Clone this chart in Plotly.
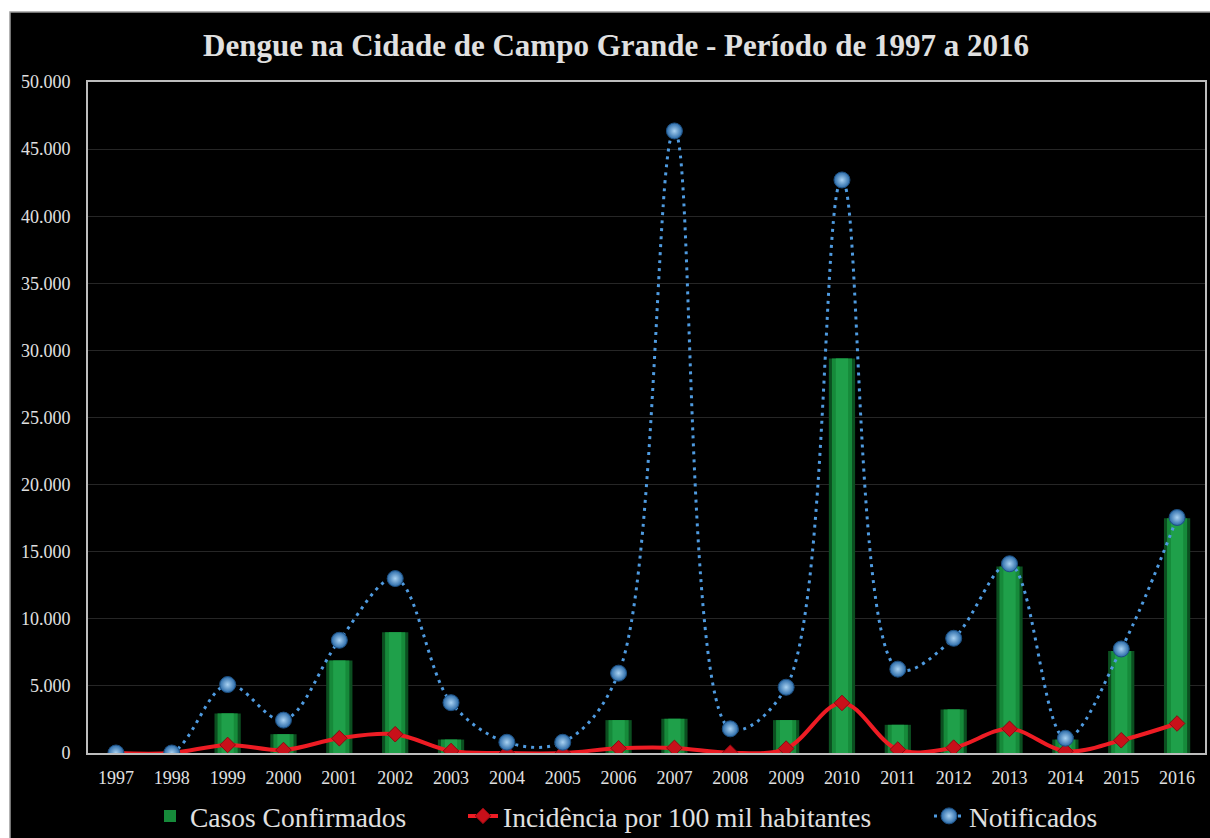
import plotly.graph_objects as go

anos = ['1997', '1998', '1999', '2000', '2001', '2002', '2003', '2004', '2005', '2006',
        '2007', '2008', '2009', '2010', '2011', '2012', '2013', '2014', '2015', '2016']
casos_confirmados = [0, 0, 2950, 1400, 6900, 9000, 1000, 0, 0, 2450,
                     2550, 0, 2450, 29400, 2100, 3250, 13900, 1000, 7600, 17500]
incidencia = [0, 0, 600, 220, 1100, 1400, 150, 0, 0, 350,
              380, 20, 330, 3730, 260, 400, 1800, 130, 950, 2200]
notificados = [0, 0, 5100, 2450, 8400, 13000, 3750, 800, 800, 5950,
               46350, 1800, 4900, 42700, 6250, 8550, 14100, 1100, 7750, 17550]
y_ticks = [0, 5000, 10000, 15000, 20000, 25000, 30000, 35000, 40000, 45000, 50000]
y_tick_text = ['0', '5.000', '10.000', '15.000', '20.000', '25.000', '30.000',
               '35.000', '40.000', '45.000', '50.000']

SERIF = 'Liberation Serif, Times New Roman, serif'
TXT = '#e0e0e0'

W, H = 1210, 838
L, R, T, B = 88, 5, 82, 85
pw, ph = W - L - R, H - T - B
def px_x(p):
    return (p - L) / pw
def px_y(p):
    return (H - B - p) / ph

fig = go.Figure()
# bars drawn in layers (dark edge -> bright centre) for a cylindrical look
bar_layers = [(0.47, '#0b4f20', False), (0.36, '#168a3a', True), (0.22, '#1fa04a', False)]
for w, c, show in bar_layers:
    fig.add_trace(go.Bar(
        x=anos, y=casos_confirmados, name='Casos Confirmados',
        width=w, marker=dict(color=c, line=dict(width=0)),
        showlegend=show, legend='legend',
    ))
fig.add_trace(go.Scatter(
    x=anos, y=incidencia, name='Incidência por 100 mil habitantes',
    mode='lines+markers', legend='legend2',
    line=dict(color='#ee1c24', width=4, shape='spline', smoothing=1.0),
    marker=dict(symbol='diamond', size=12, color='#c8101a',
                line=dict(color='#8a0a10', width=1)),
))
fig.add_trace(go.Scatter(
    x=anos, y=notificados, name='Notificados',
    mode='lines+markers', legend='legend3',
    line=dict(color='#4f9be0', width=3, dash='3px,5px', shape='spline', smoothing=1.0),
    marker=dict(symbol='circle', size=16, color='#2a6aa8',
                gradient=dict(type='radial', color='#a9d2f2'),
                line=dict(color='#1d4f80', width=1)),
))

fig.add_shape(type='rect', xref='paper', yref='paper', layer='below',
              x0=px_x(10), x1=px_x(1215), y0=px_y(845), y1=px_y(12),
              fillcolor='black', line=dict(color='#9a9a9a', width=1.5))

leg_common = dict(orientation='h', yanchor='middle', y=px_y(816), xanchor='left',
                  font=dict(family=SERIF, size=27.5, color=TXT),
                  bgcolor='rgba(0,0,0,0)')

fig.update_layout(
    width=W, height=H,
    margin=dict(l=L, r=R, t=T, b=B, autoexpand=False),
    paper_bgcolor='white', plot_bgcolor='black',
    barmode='overlay',
    title=dict(text='<b>Dengue na Cidade de Campo Grande - Período de 1997 a 2016</b>',
               x=px_x(616), xanchor='center', xref='paper',
               y=1 - 45 / H, yanchor='middle',
               font=dict(family=SERIF, size=31, color=TXT)),
    font=dict(family=SERIF, color=TXT),
    showlegend=True,
    legend=dict(x=px_x(150), **leg_common),
    legend2=dict(x=px_x(463), **leg_common),
    legend3=dict(x=px_x(929), **leg_common),
)
fig.update_xaxes(
    type='category', range=[-0.5, 19.5], automargin=False,
    showline=True, linecolor='#bdbdbd', linewidth=2, mirror=True,
    showgrid=False, ticks='', tickfont=dict(family=SERIF, size=18, color=TXT),
    ticklabelstandoff=7,
)
fig.update_yaxes(
    range=[0, 50000], tickmode='array', tickvals=y_ticks, ticktext=y_tick_text,
    automargin=False,
    showline=True, linecolor='#bdbdbd', linewidth=2, mirror=True,
    showgrid=True, gridcolor='#262626', gridwidth=1, zeroline=False,
    ticks='', tickfont=dict(family=SERIF, size=18, color=TXT),
    ticklabelstandoff=12,
)

fig.write_html('out.html', config={'displayModeBar': False},
               post_script="document.body.style.margin='0';")
